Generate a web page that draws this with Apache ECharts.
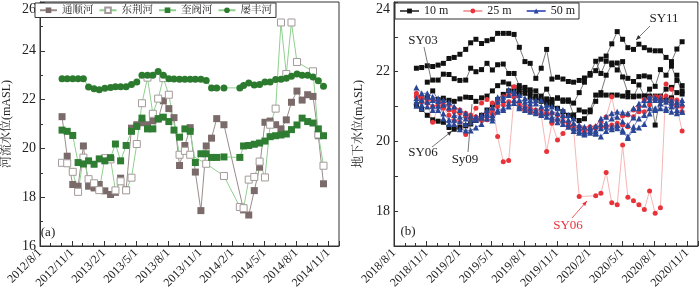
<!DOCTYPE html>
<html><head><meta charset="utf-8">
<script src="https://cdn.jsdelivr.net/npm/echarts@6/dist/echarts.min.js"></script>
<style>html,body{margin:0;padding:0;background:#fff}#c{width:700px;height:296px}</style>
</head><body><div id="c"></div>
<script>
// ---------- (a) river stage ----------
const lDates = [
'2012-10-03','2012-10-18','2012-11-03','2012-11-18','2012-12-03','2012-12-18','2013-01-03','2013-01-18','2013-02-03','2013-02-18',
'2013-03-03','2013-03-18','2013-04-03','2013-04-18','2013-05-03','2013-05-18','2013-06-03','2013-06-18','2013-07-03','2013-07-18',
'2013-08-03','2013-08-18','2013-09-03','2013-09-18','2013-10-03','2013-10-18','2013-11-03','2013-11-18','2013-12-03','2013-12-18',
'2014-01-08','2014-01-18','2014-02-03','2014-02-21','2014-03-03','2014-03-18','2014-04-03','2014-04-18','2014-05-03','2014-05-18',
'2014-06-03','2014-06-18','2014-07-03','2014-07-18','2014-08-03','2014-08-18','2014-09-03','2014-09-18','2014-10-03','2014-10-18'];
const tongshun = [
21.30,19.68,18.52,18.45,20.10,18.45,18.38,18.52,18.26,18.11,
18.20,18.78,18.30,20.83,20.97,21.05,20.97,21.13,21.20,21.95,
21.63,21.26,19.30,20.12,20.85,19.03,17.45,20.10,20.42,21.22,
20.97,null,null,null,17.48,17.27,18.27,19.23,21.07,21.12,
20.97,20.80,21.17,21.89,22.35,21.98,22.20,22.13,20.52,18.55];
const dongjing = [
19.41,19.39,19.04,18.22,19.62,18.74,18.57,18.29,19.60,19.55,
18.28,18.65,18.28,18.80,20.18,21.85,22.90,21.42,22.04,22.88,
22.20,null,19.74,19.90,19.74,null,null,19.37,null,null,
18.87,null,null,17.60,17.55,18.72,18.83,19.46,18.81,20.97,
21.63,25.16,23.05,25.16,23.54,null,null,23.16,20.57,19.29];
const kuifa = [
20.75,20.70,20.53,19.42,19.36,19.49,19.35,19.57,19.49,19.62,
20.18,19.49,20.12,20.70,20.90,21.24,20.80,20.80,21.22,21.28,
21.10,20.75,20.46,20.80,20.70,19.42,19.78,19.78,19.63,19.63,
19.65,null,null,19.63,20.10,20.12,20.17,20.22,20.30,20.48,
20.52,20.55,20.59,20.77,20.96,21.24,21.10,21.04,20.80,20.52];
const lvfeng = [
22.85,22.85,22.85,22.85,22.85,22.52,22.44,22.40,22.47,22.50,
22.53,22.53,22.53,22.62,22.72,23.00,23.00,23.00,23.15,23.00,
22.85,22.84,22.83,22.83,22.83,22.83,22.83,22.78,22.48,22.48,
22.48,null,null,22.48,22.58,22.68,22.60,22.62,22.72,22.72,
22.82,22.83,22.87,22.96,23.05,23.00,23.00,22.93,22.77,22.55];
const leftNames = ['通顺河','东荆河','奎阀河','屡丰河'];

// ---------- (b) groundwater ----------
const rDates = [
'2018-10-03','2018-10-18','2018-11-03','2018-11-18','2018-12-03','2018-12-18','2019-01-03','2019-01-18','2019-02-03','2019-02-18',
'2019-03-03','2019-03-18','2019-04-03','2019-04-18','2019-05-03','2019-05-18','2019-06-03','2019-06-18','2019-07-03','2019-07-18',
'2019-08-03','2019-08-18','2019-09-03','2019-09-18','2019-10-03','2019-10-18','2019-11-03','2019-11-18','2019-12-03','2019-12-18',
'2020-01-03','2020-01-18','2020-02-03','2020-02-18','2020-03-03','2020-03-18','2020-04-03','2020-04-18','2020-05-03','2020-05-18',
'2020-06-03','2020-06-18','2020-07-03','2020-07-18','2020-08-03','2020-08-18','2020-09-03','2020-09-18','2020-10-03','2020-10-18'];
const well10a = [
22.10,22.12,22.17,22.15,22.19,22.24,22.38,22.41,22.50,22.64,
22.83,22.93,22.81,22.89,22.93,23.10,23.10,23.10,23.07,22.70,
22.29,22.24,21.81,22.10,22.64,21.79,21.84,21.79,21.72,21.70,
21.75,21.82,21.90,22.03,22.36,22.45,22.80,23.15,22.93,22.69,
22.64,22.79,22.69,22.62,22.60,22.60,22.41,22.29,22.65,22.86];
const well10b = [
null,null,21.70,21.76,21.76,21.93,21.92,21.80,21.75,21.76,
22.10,22.00,22.06,22.24,22.05,22.20,22.22,21.95,21.95,21.60,
21.55,21.48,21.45,21.30,21.50,21.20,21.25,21.15,21.15,21.10,
21.40,21.70,21.95,22.30,21.95,22.30,22.25,22.05,22.29,21.81,
21.72,21.86,21.88,21.85,21.58,22.06,21.90,22.16,21.75,21.45];
const well10c = [
21.05,20.92,20.75,20.62,20.58,20.55,20.40,20.35,20.40,20.45,
20.50,20.60,20.75,20.90,21.05,21.20,21.35,21.45,21.43,21.38,
21.38,21.27,21.24,21.19,21.22,21.14,21.24,21.19,21.19,20.76,
20.90,20.85,20.90,21.33,21.33,21.33,21.33,21.33,21.30,21.28,
21.28,21.62,21.30,21.50,20.47,21.30,21.50,21.55,21.40,21.36];
const well10d = [
null,21.25,21.25,21.45,21.20,21.24,21.18,21.15,21.22,21.27,
21.26,21.15,21.25,21.30,21.45,21.60,21.70,21.65,21.55,21.50,
21.48,21.40,21.30,21.15,21.10,21.05,20.95,20.85,20.75,20.70,
20.60,20.65,20.85,21.15,21.40,21.90,22.20,22.25,21.85,21.40,
21.30,21.30,21.30,21.30,21.30,21.25,21.20,21.25,21.90,21.60];
const well25a = [
21.30,21.20,21.10,20.55,21.00,20.95,20.75,20.60,20.55,20.20,
20.65,20.95,21.10,21.20,21.10,20.14,19.42,19.45,21.28,21.00,
20.90,20.85,20.80,20.75,19.71,20.52,20.04,20.23,20.42,20.35,
18.42,null,null,18.44,18.51,19.11,18.24,18.18,19.90,18.40,
18.30,18.18,18.05,18.58,17.94,18.10,21.65,21.50,21.00,20.30];
const well25b = [
21.38,21.28,21.20,21.19,21.14,21.05,21.05,20.95,20.90,20.81,
20.76,20.71,20.66,20.81,20.90,21.14,21.28,21.33,21.57,21.10,
21.00,20.95,20.90,20.90,20.81,20.81,20.76,20.71,20.52,20.47,
20.42,20.38,20.42,20.42,20.57,20.70,21.28,20.52,20.73,20.76,
20.90,21.00,21.20,21.26,21.28,21.28,21.30,21.20,21.19,21.00];
const well25c = [
21.28,21.14,21.10,21.00,21.05,21.02,20.90,20.85,20.81,20.71,
20.66,20.62,20.60,20.62,20.80,21.00,21.05,21.14,21.28,21.00,
20.90,20.85,20.81,20.76,20.81,20.62,20.62,20.57,20.42,20.38,
20.38,20.30,20.35,20.38,20.42,20.42,20.47,20.42,20.47,20.42,
20.71,20.85,20.85,21.05,21.19,21.19,21.14,21.09,21.05,20.85];
const well50a = [
21.55,21.38,21.38,21.28,21.24,21.19,21.12,21.00,20.90,20.81,
20.74,20.71,20.71,20.90,20.97,21.27,21.28,21.48,21.45,21.33,
21.24,21.19,21.19,21.19,21.05,21.00,20.95,20.90,20.76,20.66,
20.47,20.42,20.42,20.44,20.66,20.71,20.81,20.85,20.83,20.81,
20.95,21.09,21.19,21.28,21.26,21.24,21.21,21.19,21.14,21.19];
const well50b = [
21.24,21.19,21.28,21.19,21.16,21.05,20.97,20.76,20.71,20.66,
20.64,20.66,20.76,20.81,20.76,21.14,21.19,21.33,21.38,21.19,
21.14,21.09,21.09,21.00,20.95,20.85,20.81,20.76,20.62,20.52,
20.38,20.28,20.38,20.31,20.50,20.52,20.66,20.71,20.57,20.47,
20.69,20.95,21.05,21.19,21.19,21.19,21.14,21.09,21.05,21.09];
const well50c = [
21.14,21.05,21.14,21.02,21.02,20.80,20.62,20.62,20.57,20.50,
20.55,20.62,20.68,20.76,20.68,20.90,20.95,21.09,21.19,21.00,
21.00,20.95,20.90,20.85,20.81,20.71,20.66,20.62,20.50,20.38,
20.30,20.23,20.30,20.25,20.38,20.42,20.42,20.47,20.33,20.14,
20.42,20.66,20.76,20.95,20.95,21.09,20.95,21.00,20.90,20.85];
const well50d = [
21.02,20.95,21.00,20.90,20.90,20.66,20.50,20.50,20.35,20.31,
20.31,20.40,20.50,20.66,20.60,20.85,20.90,21.00,21.10,20.95,
20.90,20.85,20.81,20.76,20.71,20.62,20.55,20.50,20.42,20.30,
20.25,20.20,20.25,20.22,20.14,20.30,20.35,20.38,20.28,20.10,
20.33,20.40,20.50,20.80,20.90,20.95,20.90,20.85,20.81,20.85];
const rightNames = ['10 m','25 m','50 m'];

// ---------- helpers ----------
const FONT = "'Liberation Serif','Noto Serif CJK SC','Noto Sans CJK SC',serif";
function mIdx(ds, baseY){
  const p = ds.split('-').map(Number);
  const dim = new Date(p[0], p[1], 0).getDate();
  return (p[0]-baseY)*12 + (p[1]-8) + (p[2]-1)/dim;
}
function pairs(dates, vals, baseY){
  const out = [];
  vals.forEach((v,i)=>{ if (v !== null) out.push([mIdx(dates[i], baseY), v]); });
  return out;
}
function xFmt(baseY){
  return v => {
    const r = Math.round(v);
    if (Math.abs(v - r) > 1e-6 || r % 3 !== 0 || r > 27) return '';
    const t = baseY*12 + 7 + r;
    return Math.floor(t/12) + '/' + (t%12 + 1) + '/1';
  };
}
const axisCol = '#333';
function mainX(g, baseY){
  return {type:'value', gridIndex:g, min:0, max:28, interval:3,
    axisLine:{show:true, onZero:false, lineStyle:{color:axisCol, width:1}},
    axisTick:{show:true, inside:true, length:5, lineStyle:{color:axisCol}},
    axisLabel:{rotate:45, fontSize:12, margin:5, color:'#222', fontFamily:FONT, formatter:xFmt(baseY)},
    splitLine:{show:false}};
}
function minorX(g){
  return {type:'value', gridIndex:g, min:0, max:28, interval:1, position:'bottom',
    axisLine:{show:false}, axisTick:{show:true, inside:true, length:3, lineStyle:{color:axisCol}},
    axisLabel:{show:false}, splitLine:{show:false}};
}
function lineSeries(name, xi, yi, data, sym, size, fill, border, lineCol, lw){
  return {name, type:'line', xAxisIndex:xi, yAxisIndex:yi, data, symbol:sym, symbolSize:size,
    connectNulls:true, showSymbol:true,
    itemStyle:{color:fill, borderColor:border, borderWidth: border ? 1 : 0, opacity:1},
    lineStyle:{color:lineCol, width:lw}, emphasis:{disabled:true}};
}
const lg = '#8fd08f';
const series = [
  lineSeries('通顺河',0,0,pairs(lDates,tongshun,2012),'rect',7,'#7b6a6a',null,'#9a8c8c',1),
  lineSeries('东荆河',0,0,pairs(lDates,dongjing,2012),'rect',7,'#ffffff','#a49a9a',lg,1),
  lineSeries('奎阀河',0,0,pairs(lDates,kuifa,2012),'rect',7,'#2f7d32',null,lg,1),
  lineSeries('屡丰河',0,0,pairs(lDates,lvfeng,2012),'circle',7,'#2b7a2e',null,lg,1),
];
[well10a,well10b,well10c,well10d].forEach(w=>series.push(
  lineSeries('10 m',2,1,pairs(rDates,w,2018),'rect',5,'#111111',null,'#555555',0.8)));
[well25a,well25b,well25c].forEach(w=>series.push(
  lineSeries('25 m',2,1,pairs(rDates,w,2018),'circle',5,'#e8333a',null,'#f4a3a3',0.8)));
[well50a,well50b,well50c,well50d].forEach(w=>series.push(
  lineSeries('50 m',2,1,pairs(rDates,w,2018),'triangle',6,'#2a4796',null,'#5566c4',0.8)));

const txt = (x,y,t,c) => ({type:'text', x, y, z:100, style:{text:t, fill:c||'#222', font:'13px '+FONT, align:'center', verticalAlign:'middle'}});
const ln = (x1,y1,x2,y2,c) => ({type:'line', z:100, shape:{x1,y1,x2,y2}, style:{stroke:c||'#555', lineWidth:0.8}});
const head = (pts,c) => ({type:'polygon', z:100, shape:{points:pts}, style:{fill:c||'#333'}});

const option = {
  animation:false,
  textStyle:{fontFamily:FONT},
  grid:[
    {left:34, top:2, width:305, height:244, show:true, borderColor:axisCol, borderWidth:1, backgroundColor:'transparent'},
    {left:394, top:2, width:305, height:244, show:true, borderColor:axisCol, borderWidth:1, backgroundColor:'transparent'}
  ],
  xAxis:[ mainX(0,2012), minorX(0), mainX(1,2018), minorX(1) ],
  yAxis:[
    {type:'value', gridIndex:0, min:16, max:26, interval:2,
     name:'河流水位(mASL)', nameLocation:'middle', nameGap:27, nameRotate:90,
     nameTextStyle:{fontSize:12, color:'#222', fontFamily:FONT},
     axisLine:{show:true, lineStyle:{color:axisCol}},
     axisTick:{show:true, inside:true, length:5, lineStyle:{color:axisCol}},
     minorTick:{show:true, splitNumber:2, length:3, lineStyle:{color:axisCol}},
     axisLabel:{fontSize:14, margin:4, color:'#222', fontFamily:FONT, verticalAlignMaxLabel:'top'},
     splitLine:{show:false}, minorSplitLine:{show:false}},
    {type:'value', gridIndex:1, min:17, max:24, interval:1,
     name:'地下水位(mASL)', nameLocation:'middle', nameGap:29, nameRotate:90,
     nameTextStyle:{fontSize:12, color:'#222', fontFamily:FONT},
     axisLine:{show:true, lineStyle:{color:axisCol}},
     axisTick:{show:true, inside:true, length:4, lineStyle:{color:axisCol}},
     axisLabel:{fontSize:14, margin:4, color:'#222', fontFamily:FONT, verticalAlignMaxLabel:'top',
       formatter: v => (Math.round(v) % 2 === 0 ? String(v) : '')},
     splitLine:{show:false}}
  ],
  legend:[
    {data:leftNames, left:35, top:3, itemWidth:17, itemHeight:7, itemGap:5, padding:[2,4,2,4],
     borderColor:'#333', borderWidth:1, backgroundColor:'#fff',
     textStyle:{fontSize:10.5, color:'#222', fontFamily:FONT}, selectedMode:false},
    {data:rightNames, left:395, top:3, itemWidth:19, itemHeight:6, itemGap:14, padding:[2,4,2,4],
     borderColor:'#333', borderWidth:1, backgroundColor:'#fff',
     textStyle:{fontSize:12, color:'#222', fontFamily:FONT}, selectedMode:false}
  ],
  series,
  graphic:[
    txt(48,233,'(a)'), txt(408,232,'(b)'),
    txt(423,41,'SY03'), ln(424,47,431,79),
    txt(664,19,'SY11'), ln(650,26,636,40), head([[636,40],[640.9,37.9],[638.1,35.1]]),
    txt(423,153,'SY06'), ln(432,147,452,131), head([[452,131],[449.4,135.7],[446.9,132.5]]),
    txt(465,160,'Sy09'), ln(468,152,472,104),
    txt(568,226,'SY06','#e8333a'), ln(572,218,587,201,'#e8333a'), head([[587,201],[585.2,206.1],[582.2,203.4]],'#e8333a')
  ]
};
const chart = echarts.init(document.getElementById('c'), null, {renderer:'canvas'});
chart.setOption(option);
</script>
</body></html>
